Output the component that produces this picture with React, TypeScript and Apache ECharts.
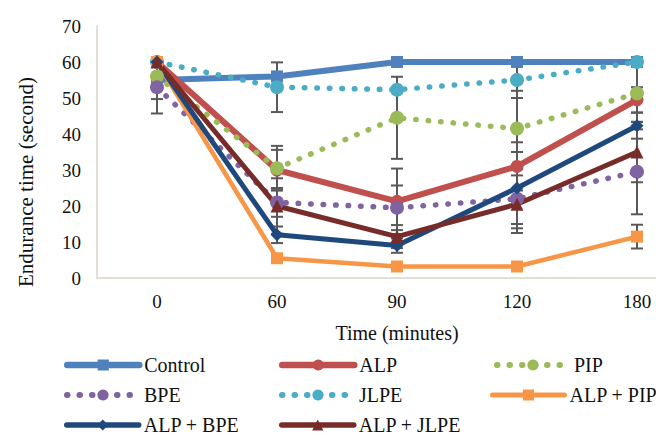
import React, { useEffect, useRef } from "react";
import * as echarts from "echarts";

const categories = ["0", "60", "90", "120", "180"];
const yTicks = [0, 10, 20, 30, 40, 50, 60, 70];

const control = [55, 56, 60, 60, 60];
const alp = [60, 30, 21.3, 31, 49.5];
const pip = [56, 30.5, 44.5, 41.5, 51.3];
const bpe = [53, 21, 19.5, 22, 29.5];
const jlpe = [60, 53, 52.3, 55, 60];
const alpPip = [60, 5.5, 3.2, 3.2, 11.5];
const alpBpe = [60, 12, 9, 25, 42.3];
const alpJlpe = [60, 20, 11.5, 20.5, 35];

const controlErr = [5.3, 0, 0, 0, 0];
const alpErr = [0, 5.6, 9.1, 6.7, 3.5];
const pipErr = [0, 6.2, 11.4, 10.5, 8];
const bpeErr = [7.3, 4, 6.2, 8.2, 11.8];
const jlpeErr = [0, 6.9, 0, 5, 0];
const alpPipErr = [0, 0, 0, 0, 3.3];
const alpBpeErr = [0, 2.3, 2, 10, 3.6];
const alpJlpeErr = [0, 7.7, 3.2, 8, 8.4];

const FONT = "'Liberation Serif', 'Times New Roman', serif";
const TEXT = "#111111";

type Def = {
  name: string;
  data: number[];
  err: number[];
  color: string;
  width: number;
  dotted: boolean;
  symbol: string;
  size: number;
  legend: [number, number];
};

const defs: Def[] = [
  { name: "Control", data: control, err: controlErr, color: "#4F81BD", width: 6, dotted: false, symbol: "rect", size: 12, legend: [64, 366] },
  { name: "ALP", data: alp, err: alpErr, color: "#C0504D", width: 6, dotted: false, symbol: "circle", size: 13, legend: [279, 366] },
  { name: "PIP", data: pip, err: pipErr, color: "#9BBB59", width: 5.5, dotted: true, symbol: "circle", size: 14, legend: [494, 366] },
  { name: "BPE", data: bpe, err: bpeErr, color: "#8064A2", width: 5.5, dotted: true, symbol: "circle", size: 14, legend: [64, 396] },
  { name: "JLPE", data: jlpe, err: jlpeErr, color: "#4BACC6", width: 5.5, dotted: true, symbol: "circle", size: 14, legend: [279, 396] },
  { name: "ALP + PIP", data: alpPip, err: alpPipErr, color: "#F79646", width: 4.5, dotted: false, symbol: "rect", size: 12, legend: [490, 396] },
  { name: "ALP + BPE", data: alpBpe, err: alpBpeErr, color: "#1F497D", width: 5, dotted: false, symbol: "diamond", size: 13, legend: [64, 426] },
  { name: "ALP + JLPE", data: alpJlpe, err: alpJlpeErr, color: "#772C2A", width: 5, dotted: false, symbol: "triangle", size: 13, legend: [279, 426] },
];

export default function App() {
  const ref = useRef<HTMLDivElement>(null);
  useEffect(() => {
    if (!ref.current) return;
    const chart = echarts.init(ref.current, undefined, { renderer: "svg" });

    const errData: number[][] = [];
    defs.forEach((d) => {
      d.err.forEach((e, i) => {
        if (e > 0) errData.push([i, d.data[i] - e, d.data[i] + e]);
      });
    });

    const dash = (d: Def) => (d.dotted ? [0.5, 12] : "solid");

    const lineSeries = defs.map((d) => ({
      name: d.name,
      type: "line",
      data: d.data,
      symbol: d.symbol,
      symbolSize: d.size,
      showAllSymbol: true,
      z: 3,
      itemStyle: { color: d.color, borderWidth: 0 },
      lineStyle: {
        color: d.color,
        width: d.width,
        type: dash(d),
        cap: "round",
        join: "round",
      },
    }));

    const errSeries = {
      type: "custom",
      name: "err",
      z: 2,
      data: errData,
      encode: { x: 0, y: [1, 2] },
      renderItem: (params: any, api: any) => {
        const x = api.value(0);
        const lo = api.coord([x, api.value(1)]);
        const hi = api.coord([x, api.value(2)]);
        const hw = 6;
        const st = { stroke: "#595959", lineWidth: 2 };
        return {
          type: "group",
          children: [
            { type: "line", shape: { x1: lo[0], y1: lo[1], x2: hi[0], y2: hi[1] }, style: st },
            { type: "line", shape: { x1: lo[0] - hw, y1: lo[1], x2: lo[0] + hw, y2: lo[1] }, style: st },
            { type: "line", shape: { x1: hi[0] - hw, y1: hi[1], x2: hi[0] + hw, y2: hi[1] }, style: st },
          ],
        };
      },
    };

    const legends = defs.map((d) => ({
      data: [d.name],
      orient: "horizontal",
      left: d.legend[0],
      top: d.legend[1] - 11,
      padding: 0,
      itemWidth: 72,
      itemHeight: 14,
      lineStyle: { width: d.width + 0.5, cap: "round", type: dash(d) },
      textStyle: { fontFamily: FONT, fontSize: 20, fontWeight: "normal", color: TEXT },
    }));

    const tick = { fontFamily: FONT, fontSize: 19, fontWeight: "normal", color: TEXT };
    const nm = { fontFamily: FONT, fontSize: 20, fontWeight: "normal", color: TEXT };

    chart.setOption({
      animation: false,
      backgroundColor: "#ffffff",
      textStyle: { fontFamily: FONT },
      legend: legends,
      graphic: [
        {
          type: "text",
          x: 26,
          y: 182,
          rotation: Math.PI / 2,
          style: {
            text: "Endurance time (second)",
            font: `normal 21px ${FONT}`,
            fill: TEXT,
            align: "center",
            verticalAlign: "middle",
          },
        },
      ],
      grid: {
        left: 97,
        top: 26,
        width: 600,
        height: 252,
        containLabel: false,
        outerBoundsMode: "none",
      },
      xAxis: {
        type: "category",
        data: categories,
        boundaryGap: true,
        name: "Time (minutes)",
        nameLocation: "middle",
        nameGap: 45,
        nameTextStyle: nm,
        axisLine: { lineStyle: { color: "#E3DFD5", width: 2 } },
        axisTick: { show: false },
        axisLabel: { ...tick, margin: 14, hideOverlap: false },
        splitLine: { show: false },
      },
      yAxis: {
        type: "value",
        min: yTicks[0],
        max: yTicks[yTicks.length - 1],
        interval: 10,
        axisLine: { show: true, lineStyle: { color: "#E3DFD5", width: 2 } },
        axisTick: { show: false },
        axisLabel: { ...tick, margin: 16 },
        splitLine: { show: false },
      },
      series: [...lineSeries, errSeries],
    });
    return () => chart.dispose();
  }, []);
  return (
    <div
      ref={ref}
      style={{ width: 656, height: 435, position: "absolute", left: 0, top: 0 }}
    />
  );
}
